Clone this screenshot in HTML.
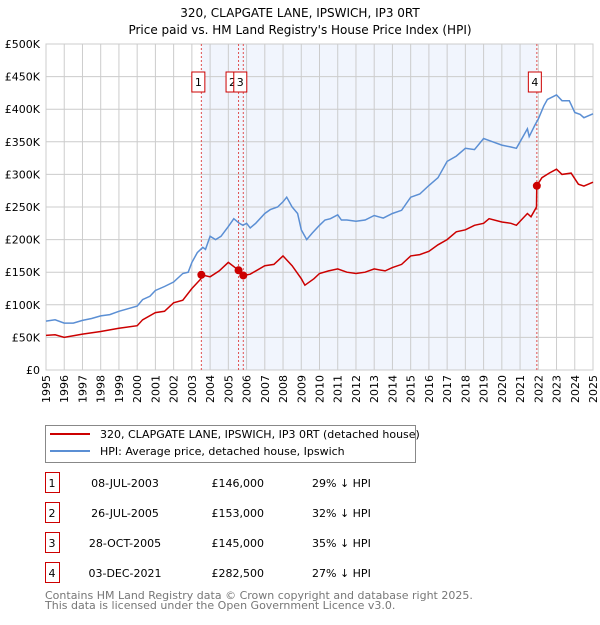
<!DOCTYPE html>
<html><head><meta charset="utf-8"><style>
body{margin:0;background:#fff;font-family:"Liberation Sans","DejaVu Sans",sans-serif;}
svg text{font-family:"DejaVu Sans","Liberation Sans",sans-serif;}
</style></head><body>
<svg width="600" height="620" xmlns="http://www.w3.org/2000/svg">
<text x="300" y="17" text-anchor="middle" font-size="12">320, CLAPGATE LANE, IPSWICH, IP3 0RT</text>
<text x="300" y="34" text-anchor="middle" font-size="12">Price paid vs. HM Land Registry's House Price Index (HPI)</text>
<g id="plot"></g>
<g>
<rect x="45.5" y="425.5" width="370" height="37" fill="#fff" stroke="#888"/>
<line x1="50" y1="434" x2="90" y2="434" stroke="#cc0000" stroke-width="2"/>
<text x="100" y="438" font-size="11">320, CLAPGATE LANE, IPSWICH, IP3 0RT (detached house)</text>
<line x1="50" y1="451" x2="90" y2="451" stroke="#5b8fd4" stroke-width="2"/>
<text x="100" y="455" font-size="11">HPI: Average price, detached house, Ipswich</text>
</g>
<g id="table" font-size="11"></g>
<text x="45" y="599" font-size="11" fill="#777">Contains HM Land Registry data © Crown copyright and database right 2025.</text>
<text x="45" y="609" font-size="11" fill="#777">This data is licensed under the Open Government Licence v3.0.</text>
</svg>
<script>
const hpiYears=[1995,1995.5,1996,1996.5,1997,1997.5,1998,1998.5,1999,1999.5,2000,2000.3,2000.7,2001,2001.5,2002,2002.5,2002.8,2003,2003.3,2003.6,2003.75,2004,2004.3,2004.6,2005,2005.3,2005.6,2005.8,2006,2006.2,2006.5,2007,2007.3,2007.7,2008,2008.2,2008.5,2008.8,2009,2009.3,2009.6,2010,2010.3,2010.6,2011,2011.2,2011.5,2012,2012.5,2013,2013.5,2014,2014.5,2015,2015.5,2016,2016.5,2017,2017.5,2018,2018.5,2019,2019.5,2020,2020.5,2020.8,2021,2021.4,2021.5,2021.8,2022,2022.3,2022.5,2023,2023.3,2023.7,2024,2024.3,2024.5,2025];
const hpiValues=[75,77,72,72,76,79,83,85,90,94,98,108,113,122,128,135,148,150,165,180,188,185,205,200,205,220,232,225,222,225,218,225,240,246,250,258,265,250,240,215,200,210,222,230,232,238,230,230,228,230,237,233,240,245,265,270,283,295,320,328,340,338,355,350,345,342,340,350,370,358,375,385,405,415,422,413,413,395,392,387,393];
const priceYears=[1995,1995.5,1996,1997,1998,1999,2000,2000.3,2001,2001.5,2002,2002.5,2003,2003.5,2003.52,2004,2004.5,2005,2005.56,2005.82,2006.2,2007,2007.5,2008,2008.5,2009,2009.2,2009.7,2010,2010.5,2011,2011.5,2012,2012.5,2013,2013.6,2014,2014.5,2015,2015.5,2016,2016.5,2017,2017.5,2018,2018.5,2019,2019.3,2020,2020.5,2020.8,2021,2021.4,2021.6,2021.9,2021.92,2022.2,2022.6,2023,2023.3,2023.8,2024.2,2024.5,2025];
const priceValues=[53,54,50,55,59,64,68,77,88,90,103,107,125,140,146,143,152,165,153,145,147,160,162,175,160,140,130,140,148,152,155,150,148,150,155,152,157,162,175,177,182,192,200,212,215,222,225,232,227,225,222,228,240,235,250,282.5,295,302,308,300,302,285,282,288];
const saleLabels=["1","2","3","4"];
const saleYears=[2003.52,2005.56,2005.82,2021.92];
const salePrices=[146,153,145,282.5];
const saleDates=["08-JUL-2003","26-JUL-2005","28-OCT-2005","03-DEC-2021"];
const salePriceText=["£146,000","£153,000","£145,000","£282,500"];
const saleDiff=["29% ↓ HPI","32% ↓ HPI","35% ↓ HPI","27% ↓ HPI"];
const yTicks=[0,50,100,150,200,250,300,350,400,450,500];
const yTickLabels=["£0","£50K","£100K","£150K","£200K","£250K","£300K","£350K","£400K","£450K","£500K"];
const xTicks=[1995,1996,1997,1998,1999,2000,2001,2002,2003,2004,2005,2006,2007,2008,2009,2010,2011,2012,2013,2014,2015,2016,2017,2018,2019,2020,2021,2022,2023,2024,2025];

const L=46,R=593,T=44,B=370;
const xs=y=>L+(y-1995)/30*(R-L);
const ys=v=>B-v/500*(B-T);
const NS="http://www.w3.org/2000/svg";
const plot=document.getElementById('plot');
function mk(tag,attrs,parent){const e=document.createElementNS(NS,tag);for(const k in attrs)e.setAttribute(k,attrs[k]);(parent||plot).appendChild(e);return e;}

const bg=mk('rect',{x:L,y:T,width:R-L,height:B-T,fill:'#fff'});


const sh=mk('rect',{x:xs(saleYears[0]),y:T,width:xs(saleYears[3])-xs(saleYears[0]),height:B-T,fill:'#eef3fc',opacity:0.8});


yTicks.forEach((v,i)=>{
  const g=mk('line',{x1:L,x2:R,y1:ys(v),y2:ys(v),stroke:'#ccc','stroke-width':1});
  
  
  const t=mk('text',{x:L-6,y:ys(v)+4,'text-anchor':'end','font-size':11});
  t.textContent=yTickLabels[i];
  
  
});
xTicks.forEach(y=>{
  const g=mk('line',{x1:xs(y),x2:xs(y),y1:T,y2:B,stroke:'#ccc','stroke-width':1});
  
  
  const t=mk('text',{x:0,y:0,'text-anchor':'end','font-size':11,transform:`translate(${xs(y)+4},${B+5}) rotate(-90)`});
  t.textContent=y;
  
  
});
const ax=mk('rect',{x:L,y:T,width:R-L,height:B-T,fill:'none',stroke:'#ccc'});


saleYears.forEach((y,i)=>{
  const l=mk('line',{x1:xs(y),x2:xs(y),y1:T,y2:B,stroke:'#e05050','stroke-width':1,'stroke-dasharray':'2,2'});
  
  
});
const pts=(X,V)=>X.map((y,i)=>xs(y).toFixed(1)+','+ys(V[i]).toFixed(1)).join(' ');
const hp=mk('polyline',{points:pts(hpiYears,hpiValues),fill:'none',stroke:'#5b8fd4','stroke-width':1.5});


const pp=mk('polyline',{points:pts(priceYears,priceValues),fill:'none',stroke:'#cc0000','stroke-width':1.5});


saleYears.forEach((y,i)=>{
  const c=mk('circle',{cx:xs(y),cy:ys(salePrices[i]),r:4,fill:'#cc0000'});
  
  
});
const boxOff=[-3,-6,-3,-2];
saleYears.forEach((y,i)=>{
  const cx=xs(y)+boxOff[i];
  const r=mk('rect',{x:cx-6.5,y:72,width:13,height:20,fill:'#fff',stroke:'#cc0000'});
  
  
  const t=mk('text',{x:cx,y:86,'text-anchor':'middle','font-size':11});
  t.textContent=saleLabels[i];
  
  
});
const tb=document.getElementById('table');
saleLabels.forEach((s,i)=>{
  const cy=483+i*30;
  const r=mk('rect',{x:45.5,y:cy-10.5,width:14,height:20,fill:'#fff',stroke:'#cc0000'},tb);
  
  
  const cells=[[52,s,'middle'],[125,saleDates[i],'middle'],[264,salePriceText[i],'end'],[312,saleDiff[i],'start']];
  cells.forEach(c=>{
    const t=mk('text',{x:c[0],y:cy+4,'text-anchor':c[2]},tb);
    t.textContent=c[1];
    
    
  });
});
</script>
</body></html>
